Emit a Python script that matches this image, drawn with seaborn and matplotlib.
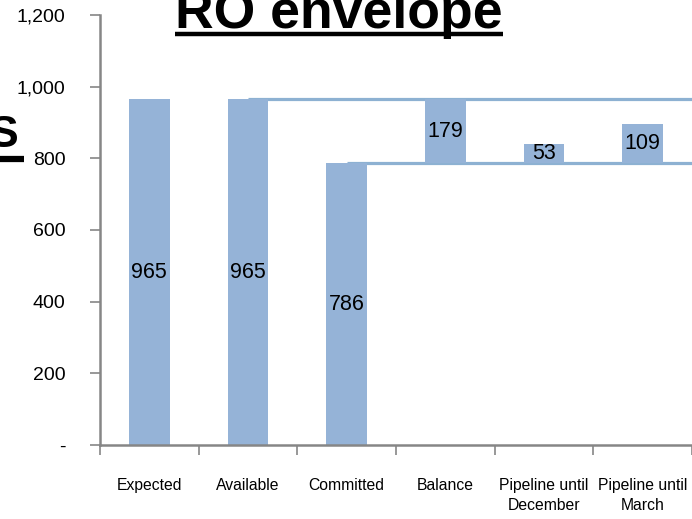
import matplotlib
matplotlib.use("Agg")
import matplotlib.pyplot as plt
from matplotlib.lines import Line2D
from matplotlib.ticker import FuncFormatter
import seaborn as sns
import pandas as pd

# Waterfall data for the RO envelope
categories = ["Expected", "Available", "Committed", "Balance",
              "Pipeline until\nDecember", "Pipeline until\nMarch"]
values = [965, 965, 786, 179, 53, 109]
bases = [0, 0, 0, 786, 786, 786]
y_ticks = [0, 200, 400, 600, 800, 1000, 1200]

# connector levels: (value, starting category index)
connectors = [(965, 1), (786, 2)]

BAR = "#95B3D7"
LINE = "#8DB1D2"
AXIS = "#868686"

sns.set_theme(style="white")
plt.rcParams["font.family"] = ["Liberation Sans", "DejaVu Sans"]

df = pd.DataFrame({"category": categories, "value": values, "base": bases})

fig = plt.figure(figsize=(6.92, 5.19), dpi=100)
ax = fig.add_axes([100 / 692, 74 / 519, 592 / 692, 430 / 519])

sns.barplot(data=df, x="category", y="value", bottom=df["base"].values,
            color=BAR, saturation=1, width=0.41, edgecolor="none",
            ax=ax, zorder=2)

# connector lines running behind the bars
for level, start in connectors:
    ax.hlines(level, start, len(categories) - 0.5, color=LINE,
              linewidth=2.3, zorder=1)

# value labels centred in each bar
for i, (v, b) in enumerate(zip(values, bases)):
    ax.text(i, b + v / 2, f"{v}", ha="center", va="center",
            fontsize=15.5, color="black", zorder=3)

ax.set_xlim(-0.5, len(categories) - 0.5)
ax.set_ylim(0, 1200)
ax.set_yticks(y_ticks)
ax.yaxis.set_major_formatter(
    FuncFormatter(lambda v, _: "-" if v == 0 else f"{int(v):,}"))
ax.set_xlabel("")
ax.set_ylabel("")

# category boundaries as minor ticks on the x axis
ax.set_xticks([i - 0.5 for i in range(len(categories) + 1)], minor=True)
ax.tick_params(axis="x", which="major", length=0, pad=24, labelsize=11.3,
               colors="black")
ax.tick_params(axis="x", which="minor", length=7, width=1.2, color=AXIS,
               direction="out", bottom=True)
ax.tick_params(axis="y", length=7, width=1.2, color=AXIS, direction="out",
               left=True, pad=18, labelsize=14, labelcolor="black")
for lbl in ax.get_xticklabels():
    lbl.set_linespacing(1.35)
    lbl.set_va("top")

for side in ["top", "right"]:
    ax.spines[side].set_visible(False)
for side in ["left", "bottom"]:
    ax.spines[side].set_color(AXIS)
    ax.spines[side].set_linewidth(1.8)

# headings, underlined
title = fig.text(339 / 692, 1 - 28 / 519, "RO envelope", ha="center",
                 va="baseline", fontsize=38.5, fontweight="bold",
                 color="black")
side = fig.text(18 / 692, 1 - 147 / 519, "S", ha="right", va="baseline",
                fontsize=32, fontweight="bold", color="black")

fig.canvas.draw()
renderer = fig.canvas.get_renderer()
for txt, y_px, lw, extra in [(title, 34, 3.2, 0), (side, 159, 4.5, 6)]:
    bb = txt.get_window_extent(renderer)
    x0 = bb.x0 / fig.bbox.width
    x1 = (bb.x1 + extra) / fig.bbox.width
    y = 1 - y_px / 519
    fig.add_artist(Line2D([x0, x1], [y, y], transform=fig.transFigure,
                          color="black", linewidth=lw,
                          solid_capstyle="butt"))

fig.savefig("out.png", dpi=100)
